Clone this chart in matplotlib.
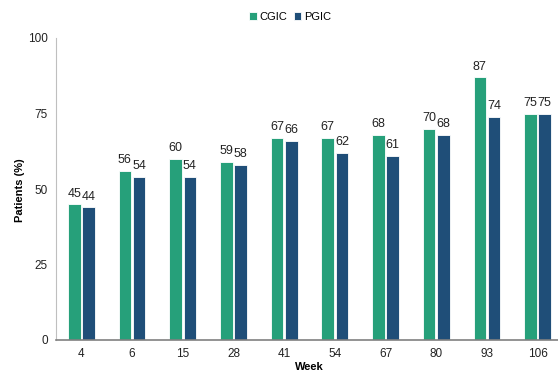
import numpy as np
import matplotlib.pyplot as plt

plt.rcParams['font.family'] = ['Liberation Sans', 'DejaVu Sans']

weeks = ['4', '6', '15', '28', '41', '54', '67', '80', '93', '106']
cgic = [45, 56, 60, 59, 67, 67, 68, 70, 87, 75]
pgic = [44, 54, 54, 58, 66, 62, 61, 68, 74, 75]

green = '#26a07a'
blue = '#1f4e78'

fig = plt.figure(figsize=(5.58, 3.72), dpi=100)
ax = fig.add_axes([56 / 558, 1 - 340 / 372, 507 / 558, 302 / 372])

x = np.arange(len(weeks))
w = 0.25
off = 0.14
b1 = ax.bar(x - off, cgic, w, color=green, edgecolor='white', linewidth=0.6, label='CGIC')
b2 = ax.bar(x + off, pgic, w, color=blue, edgecolor='white', linewidth=0.6, label='PGIC')

for bars in (b1, b2):
    for rect in bars:
        h = rect.get_height()
        ax.text(rect.get_x() + rect.get_width() / 2, h + 1.5, f'{h:g}',
                ha='center', va='bottom', fontsize=9, color='#222222')

ax.set_xlim(-0.5, len(weeks) - 0.5)
ax.set_ylim(0, 100)
ax.set_yticks([0, 25, 50, 75, 100])
ax.set_xticks(x)
ax.set_xticklabels(weeks)
ax.tick_params(length=0, labelsize=8.5, colors='#222222', pad=6)

for s in ('top', 'right'):
    ax.spines[s].set_visible(False)
ax.spines['left'].set_color('#bfbfbf')
ax.spines['bottom'].set_color('#808080')
ax.spines['bottom'].set_linewidth(1.2)

# axis titles placed in figure coordinates
fig.text(20 / 558, 1 - 190 / 372, 'Patients (%)', rotation=90, ha='center', va='center',
         fontsize=8, fontweight='bold')
fig.text(309 / 558, 1 - 367 / 372, 'Week', ha='center', va='center',
         fontsize=8, fontweight='bold')

fig.legend(handles=[b1, b2], loc='center', bbox_to_anchor=(290 / 558, 1 - 17 / 372),
           ncol=2, frameon=False, fontsize=8, handlelength=0.7, handleheight=0.7,
           handletextpad=0.2, columnspacing=0.6)

fig.savefig('out.png', dpi=100)
